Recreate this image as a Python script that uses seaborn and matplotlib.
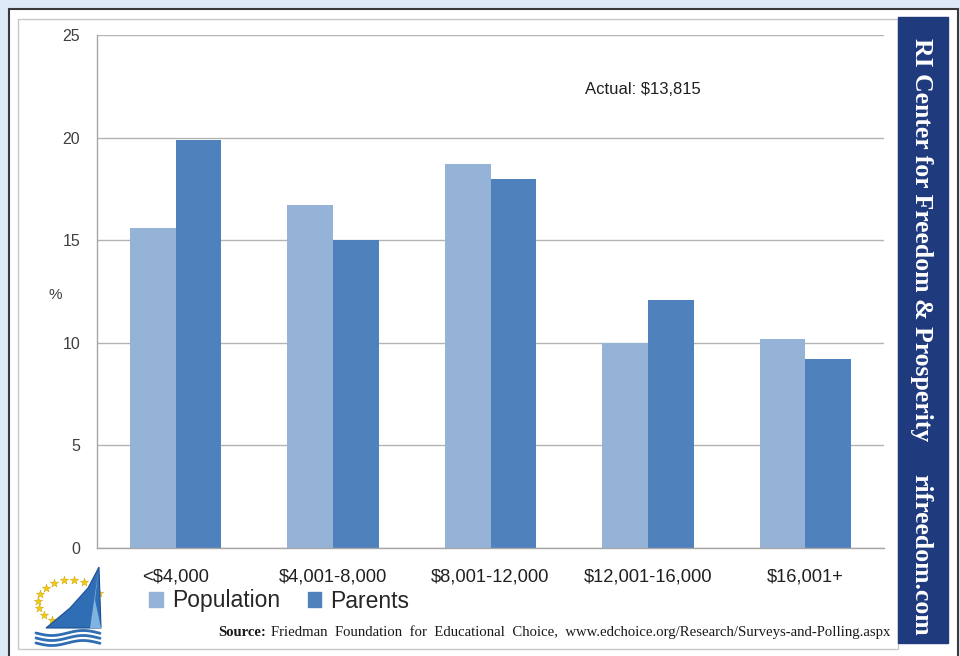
import numpy as np
import pandas as pd
import seaborn as sns
import matplotlib.pyplot as plt
from matplotlib.patches import Rectangle, Polygon

# Chart data (percent of households by income bracket)
categories = ["<$4,000", "$4,001-8,000", "$8,001-12,000", "$12,001-16,000", "$16,001+"]
population = [15.6, 16.7, 18.7, 10.0, 10.2]
parents = [19.9, 15.0, 18.0, 12.1, 9.2]
series = ["Population", "Parents"]
colors = ["#95b3d7", "#4f81bd"]
y_ticks = [0, 5, 10, 15, 20, 25]

W, H = 960, 656


def px_box(x0, y0, x1, y1):
    # pixel box (top-left origin) -> figure fraction rect
    return [x0 / W, 1 - y1 / H, (x1 - x0) / W, (y1 - y0) / H]


df = pd.DataFrame({
    "bracket": categories * 2,
    "pct": population + parents,
    "group": [series[0]] * len(categories) + [series[1]] * len(categories),
})

sns.set_style("white")
plt.rcParams["font.family"] = ["Liberation Sans", "DejaVu Sans"]

fig = plt.figure(figsize=(W / 100, H / 100), dpi=100)

# Background / frame layer in pixel coordinates
bg = fig.add_axes([0, 0, 1, 1], zorder=-5)
bg.set_xlim(0, W)
bg.set_ylim(H, 0)
bg.axis("off")
bg.add_patch(Rectangle((0, 0), W, H, color="#dce9f6"))
bg.add_patch(Rectangle((9, 9), 949, 660, facecolor="white", edgecolor="#3a3a3a", lw=1.5))
bg.add_patch(Rectangle((18, 19), 880, 630, facecolor="white", edgecolor="#c8c8c8", lw=1))
bg.add_patch(Rectangle((898, 17), 50, 626, color="#1f3b7d"))
bg.text(921, 38, "RI Center for Freedom & Prosperity", rotation=-90, color="white",
        family="Liberation Serif", weight="bold", fontsize=18.5, ha="center", va="top")
bg.text(921, 636, "rifreedom.com", rotation=-90, color="white",
        family="Liberation Serif", weight="bold", fontsize=18.5, ha="center", va="bottom")

# Source line
bg.text(218, 632, "Source:", family="Liberation Serif", weight="bold", fontsize=10.5,
        ha="left", va="center", color="#1a1a1a")
bg.text(271, 632, "Friedman  Foundation  for  Educational  Choice,  www.edchoice.org/Research/Surveys-and-Polling.aspx",
        family="Liberation Serif", fontsize=10.6, ha="left", va="center", color="#1a1a1a")

# Simple logo: ring of stars, sail, waves
ang = np.linspace(np.radians(25), np.radians(235), 12)
bg.scatter(70 + 32 * np.cos(ang), 602 - 22 * np.sin(ang), marker="*", s=40,
           color="#f2c811", edgecolor="#c9a000", lw=0.3, zorder=3)
bg.add_patch(Polygon([(99, 567), (88, 588), (70, 608), (46, 628), (101, 628)],
                     facecolor="#2f6db5", edgecolor="#1d4f94", lw=0.8, zorder=4))
bg.add_patch(Polygon([(99, 567), (95, 600), (101, 628), (90, 628)],
                     facecolor="#7fb3e0", lw=0, zorder=5))
for k in range(3):
    xs = np.linspace(36, 100, 40)
    bg.plot(xs, 633 + 5 * k + 2.5 * np.sin((xs - 36) / 10), color="#2f6db5", lw=2, zorder=4)

# Bar chart
ax = fig.add_axes(px_box(97, 35, 884, 548))
sns.barplot(data=df, x="bracket", y="pct", hue="group", order=categories, hue_order=series,
            palette=colors, width=0.58, saturation=1, linewidth=0, ax=ax, legend=False)
ax.set_xlim(-0.5, len(categories) - 0.5)
ax.set_ylim(0, 25)
ax.set_yticks(y_ticks)
ax.yaxis.grid(True, color="#b4b4b4", lw=1)
ax.set_axisbelow(True)
for s in ["top", "right"]:
    ax.spines[s].set_visible(False)
for s in ["left", "bottom"]:
    ax.spines[s].set_color("#a6a6a6")
    ax.spines[s].set_linewidth(1)
ax.set_xlabel("")
ax.set_ylabel("")
ax.tick_params(axis="y", length=5, color="#a6a6a6", labelsize=11.5, labelcolor="#404040", pad=7)
ax.tick_params(axis="x", which="major", length=0, labelsize=13.2, labelcolor="#202020", pad=15)
ax.set_xticks(np.arange(-0.5, len(categories) + 0.5, 1), minor=True)
ax.tick_params(axis="x", which="minor", length=5, color="#a6a6a6")

fig.text(55 / W, 1 - 295 / H, "%", fontsize=11, color="#404040", ha="center", va="center")
fig.text(585 / W, 1 - 89 / H, "Actual: $13,815", fontsize=12, color="#202020", ha="left", va="center")

handles = [Rectangle((0, 0), 1, 1, color=c) for c in colors]
fig.legend(handles, series, loc="center left", bbox_to_anchor=(149 / W, 1 - 601 / H),
           ncol=2, frameon=False, fontsize=16.5, handlelength=0.6, handleheight=0.6,
           handletextpad=0.4, columnspacing=1.2, borderaxespad=0, borderpad=0)

fig.savefig("out.png", dpi=100)
